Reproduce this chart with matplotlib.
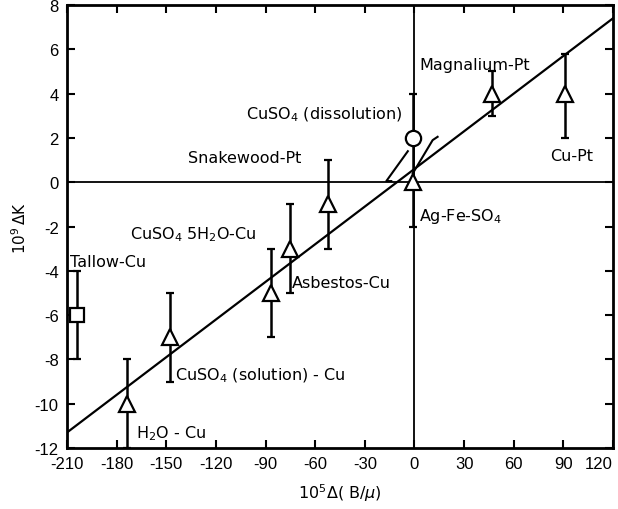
import numpy as np
import matplotlib
matplotlib.use("Agg")
import matplotlib.pyplot as plt
from matplotlib import font_manager

# --- measured points: 10^5 delta(B/mu) vs 10^9 delta K ---
tri_x = [-174, -148, -87, -75, -52, -1, 47, 91]
tri_y = [-10, -7, -5, -3, -1, 0, 4, 4]
tri_err_lo = [2, 2, 2, 2, 2, 2, 1, 2]
tri_err_hi = [2, 2, 2, 2, 2, 0, 1, 1.8]

square_x = [-204]
square_y = [-6]
square_err = [2]

circle_x = [-1]
circle_y = [2]
circle_err = [2]

# straight-line fit through the data
fit_x = [-210, 120]
fit_y = [-11.3, 7.4]

# short pointer strokes near the crossing point
ptr1_x = [-4, -17, -14]
ptr1_y = [1.4, 0.05, 0.05]
ptr2_x = [-1, 11, 14]
ptr2_y = [0.4, 1.9, 2.05]

labels = [
    ("Tallow-Cu", -208, -3.6),
    (r"CuSO$_4$ 5H$_2$O-Cu", -172, -2.3),
    (r"H$_2$O - Cu", -168, -11.3),
    (r"CuSO$_4$ (solution) - Cu", -145, -8.7),
    ("Asbestos-Cu", -74, -4.55),
    ("Snakewood-Pt", -137, 1.1),
    (r"CuSO$_4$ (dissolution)", -102, 3.1),
    ("Magnalium-Pt", 3, 5.3),
    ("Cu-Pt", 82, 1.2),
    (r"Ag-Fe-SO$_4$", 3, -1.5),
]

xticks = np.arange(-210, 121, 30)
yticks = np.arange(-12, 9, 2)

plt.rcParams["font.family"] = "DejaVu Sans"
plt.rcParams["mathtext.fontset"] = "dejavusans"
plt.rcParams["axes.unicode_minus"] = False

# narrow face for the numbers if one is around
names = {f.name for f in font_manager.fontManager.ttflist}
num_font = "DejaVu Sans"
for cand in ["Liberation Sans Narrow", "DejaVu Sans Condensed", "Liberation Sans"]:
    if cand in names:
        num_font = cand
        break

fig = plt.figure(figsize=(6.18, 5.10), dpi=100)
ax = fig.add_axes([0.1084, 0.1196, 0.8835, 0.8686])

# reference axes through the origin
ax.axhline(0, color="black", lw=1.3, zorder=1)
ax.axvline(0, color="black", lw=1.3, zorder=1)

ax.plot(fit_x, fit_y, color="black", lw=1.6, zorder=2)
ax.plot(ptr1_x, ptr1_y, color="black", lw=1.5, zorder=2)
ax.plot(ptr2_x, ptr2_y, color="black", lw=1.5, zorder=2)

eb = dict(fmt="none", ecolor="black", elinewidth=1.8, capsize=3, capthick=1.6, zorder=3)
ax.errorbar(tri_x, tri_y, yerr=[tri_err_lo, tri_err_hi], **eb)
ax.errorbar(square_x, square_y, yerr=square_err, **eb)
ax.errorbar(circle_x, circle_y, yerr=circle_err, **eb)

mk = dict(ls="none", mfc="white", mec="black", mew=1.6, zorder=4)
ax.plot(tri_x, tri_y, marker="^", ms=12, **mk)
ax.plot(square_x, square_y, marker="s", ms=10, **mk)
ax.plot(circle_x, circle_y, marker="o", ms=11, **mk)

for txt, x, y in labels:
    ax.text(x, y, txt, fontsize=11.5, ha="left", va="center", zorder=5)

ax.set_xlim(-210, 120)
ax.set_ylim(-12, 8)
ax.set_xticks(xticks)
ax.set_yticks(yticks)
ax.tick_params(direction="in", length=6, width=1.5, top=True, right=True,
               labelsize=12, pad=6)
for lab in ax.get_xticklabels() + ax.get_yticklabels():
    lab.set_family(num_font)
# keep the last x label inside the figure
ax.get_xticklabels()[-1].set_horizontalalignment("right")
ax.get_xticklabels()[-1].set_x(120)
for s in ax.spines.values():
    s.set_linewidth(2)

ax.set_xlabel(r"10$^5\Delta$( B/$\mu$)", fontsize=11.5, labelpad=7)
ax.set_ylabel(r"10$^9\,\Delta$K", fontsize=11, labelpad=4)

fig.savefig("out.png", dpi=100)
